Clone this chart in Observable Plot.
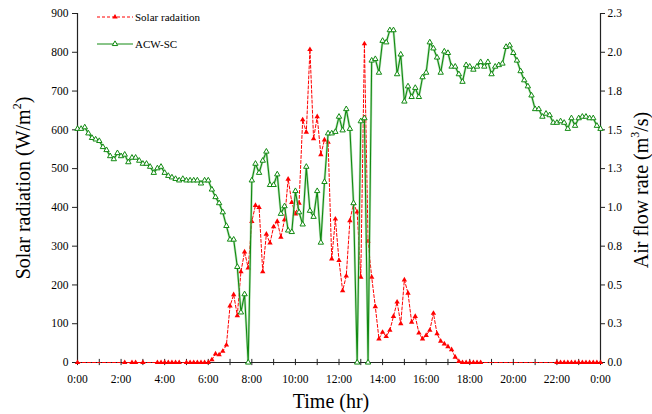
<!DOCTYPE html>
<html>
<head>
<meta charset="utf-8">
<script src="https://cdn.jsdelivr.net/npm/d3@7"></script>
<script src="https://cdn.jsdelivr.net/npm/@observablehq/plot@0.6"></script>
<style>
  body { margin: 0; background: #fff; }
  #chart { width: 652px; height: 414px; }
  #chart svg { display: block; }
</style>
</head>
<body>
<div id="chart"></div>
<script>
// Readings are logged every 10 minutes, from 0:00 to 0:00 the next day.
const minutesPerStep = 10;

// Solar radiation (W/m²); null marks a step with no logged reading.
const solarRadiation = [
  0, null, null, null, null, null,          // 0:00
  null, null, null, null, null, null,       // 1:00
  null, 0, null, 0, 0, null,                // 2:00
  0, null, null, null, 0, 0,                // 3:00
  0, 0, 0, 0, 0, null,                      // 4:00
  0, 0, 0, 0, 0, 0,                         // 5:00
  0, 7, 22, 20, 29, 45,                     // 6:00
  146, 175, 121, 234, 285, 244,             // 7:00
  364, 405, 400, 234, 331, 308,             // 8:00
  350, 364, 323, 368, 473, 413,             // 9:00
  383, 411, 626, 594, 807, 577,             // 10:00
  634, 536, 574, 568, 267, 370,             // 11:00
  263, 185, 223, 366, 410, 388,             // 12:00
  220, 822, 313, 220, 144, 61,              // 13:00
  78, 67, 83, 119, 156, 100,                // 14:00
  213, 179, 104, 119, 76, 61,               // 15:00
  70, 83, 127, 74, 55, 48,                  // 16:00
  41, 33, 14, 3, 0, 0,                      // 17:00
  0, 0, 0, 0, null, null,                   // 18:00
  null, null, null, null, null, null,       // 19:00
  null, null, null, null, null, null,       // 20:00
  null, null, null, null, null, null,       // 21:00
  0, 0, 0, 0, 0, 0,                         // 22:00
  0, 0, 0, 0, 0, 0,                         // 23:00
  0                                         // 0:00
];

// ACW-SC air flow rate (m³/s).
const airFlowRate = [
  1.54, 1.54, 1.55, 1.51, 1.48, 1.47,       // 0:00
  1.46, 1.42, 1.40, 1.36, 1.34, 1.38,       // 1:00
  1.36, 1.37, 1.32, 1.35, 1.35, 1.33,       // 2:00
  1.31, 1.31, 1.29, 1.25, 1.28, 1.29,       // 3:00
  1.25, 1.23, 1.22, 1.21, 1.20, 1.21,       // 4:00
  1.20, 1.20, 1.20, 1.20, 1.18, 1.20,       // 5:00
  1.20, 1.14, 1.09, 1.05, 0.99, 0.90,       // 6:00
  0.81, 0.81, 0.63, 0.33, 0.45, 0.00,       // 7:00
  1.20, 1.31, 1.25, 1.33, 1.39, 1.17,       // 8:00
  1.17, 1.24, 0.98, 1.03, 0.87, 0.86,       // 9:00
  1.13, 0.99, 0.91, 1.29, 1.00, 0.96,       // 10:00
  1.13, 0.79, 1.19, 1.51, 1.51, 1.52,       // 11:00
  1.62, 1.53, 1.67, 1.54, 1.05, 0.00,       // 12:00
  1.59, 1.61, 0.00, 1.99, 2.00, 1.91,       // 13:00
  2.12, 2.11, 2.19, 2.19, 1.90, 2.03,       // 14:00
  1.72, 1.82, 1.75, 1.81, 1.75, 1.88,       // 15:00
  1.91, 2.11, 2.07, 2.01, 1.91, 2.05,       // 16:00
  2.04, 1.95, 1.95, 1.90, 1.85, 1.96,       // 17:00
  1.95, 1.93, 1.95, 1.98, 1.95, 1.98,       // 18:00
  1.90, 1.95, 1.96, 1.97, 2.08, 2.09,       // 19:00
  2.04, 1.99, 1.92, 1.86, 1.82, 1.76,       // 20:00
  1.67, 1.67, 1.62, 1.64, 1.63, 1.58,       // 21:00
  1.58, 1.59, 1.58, 1.54, 1.61, 1.56,       // 22:00
  1.61, 1.62, 1.62, 1.61, 1.61, 1.56,       // 23:00
  1.54                                      // 0:00
];

// Axis ticks.
const timeLabelTicks = [0, 2, 4, 6, 8, 10, 12, 14, 16, 18, 20, 22, 24];
const hourTicks = [0, 1, 2, 3, 4, 5, 6, 7, 8, 9, 10, 11, 12, 13, 14, 15, 16, 17, 18, 19, 20, 21, 22, 23, 24];
const radiationTicks = [0, 100, 200, 300, 400, 500, 600, 700, 800, 900];
const radiationAxisMax = 900;
const flowAxisMax = 2.3;

const seriesNames = ["Solar radaition", "ACW-SC"];

const solarColor = "#ff0000";
const flowColor = "#128a12";
const axisColor = "#222";
const serif = "'Liberation Serif', 'Times New Roman', serif";
const markerRadius = 2;

const hourOf = i => i * minutesPerStep / 60;
const solarRows = solarRadiation
  .map((value, i) => ({hour: hourOf(i), value}))
  .filter(d => d.value !== null);
const flowRows = airFlowRate.map((flow, i) => ({hour: hourOf(i), flow}));
// The air flow shares the left scale; the right axis relabels it in m³/s.
const flowOnRadiation = d => d.flow * radiationAxisMax / flowAxisMax;

const chart = Plot.plot({
  width: 652,
  height: 414,
  marginLeft: 77,
  marginRight: 52,
  marginTop: 13,
  marginBottom: 52,
  x: {domain: [0, 24]},
  y: {domain: [0, radiationAxisMax]},
  style: {fontFamily: serif, fontSize: "11.5px", color: "#000", background: "#fff", overflow: "visible"},
  marks: [
    Plot.axisY(radiationTicks, {anchor: "left", tickSize: 5, tickPadding: 4, label: null, stroke: axisColor}),
    Plot.axisY(radiationTicks, {
      anchor: "right", tickSize: 4, tickPadding: 3, label: null, stroke: axisColor,
      tickFormat: v => (v * flowAxisMax / radiationAxisMax).toFixed(1)
    }),
    Plot.axisX(timeLabelTicks, {tickSize: 0, tickPadding: 12, label: null, tickFormat: h => `${h % 24}:00`}),
    Plot.ruleX(hourTicks, {y1: -8, y2: 8, stroke: axisColor}),
    Plot.ruleX([0], {stroke: axisColor, strokeWidth: 1.2}),
    Plot.ruleX([24], {stroke: axisColor, strokeWidth: 1.2}),
    Plot.ruleY([0], {stroke: axisColor, strokeWidth: 1.2}),
    Plot.line(solarRows, {x: "hour", y: "value", stroke: solarColor, strokeWidth: 1, strokeDasharray: "3,2"}),
    Plot.dot(solarRows, {x: "hour", y: "value", symbol: "triangle", r: markerRadius, fill: solarColor, stroke: "none"}),
    Plot.line(flowRows, {x: "hour", y: flowOnRadiation, stroke: "#8fd08f", strokeWidth: 2.4, strokeOpacity: 0.6}),
    Plot.line(flowRows, {x: "hour", y: flowOnRadiation, stroke: flowColor, strokeWidth: 1.1}),
    Plot.dot(flowRows, {x: "hour", y: flowOnRadiation, symbol: "triangle", r: markerRadius, fill: "#fff", stroke: flowColor, strokeWidth: 1})
  ]
});

document.getElementById("chart").appendChild(chart);

// Axis titles, with superscript units.
const svg = d3.select(chart);
function title(x, y, angle, parts) {
  const t = svg.append("text")
    .attr("transform", `translate(${x},${y}) rotate(${angle})`)
    .attr("text-anchor", "middle")
    .attr("font-family", serif)
    .attr("font-size", 20)
    .attr("fill", "#000");
  parts.forEach(([s, sup]) => {
    const span = t.append("tspan").text(s);
    if (sup) span.attr("font-size", 12).attr("dy", -9);
    else if (sup === false) span.attr("dy", 9);
  });
}
title(30, 188, -90, [["Solar radiation (W/m"], ["2", true], [")", false]]);
title(648, 190, -90, [["Air flow rate (m"], ["3", true], ["/s)", false]]);
title(331, 408, 0, [["Time (hr)"]]);

// Legend in the upper left of the plot area.
const legend = svg.append("g")
  .attr("font-family", serif)
  .attr("font-size", 11)
  .attr("text-anchor", "start");
const tri = d3.symbol(d3.symbolTriangle, Math.PI * markerRadius * markerRadius)();
[
  {name: seriesNames[0], y: 17, color: solarColor, dash: "3,2", fill: solarColor},
  {name: seriesNames[1], y: 44, color: flowColor, dash: null, fill: "#fff"}
].forEach(item => {
  const g = legend.append("g");
  g.append("line").attr("x1", 97).attr("x2", 133).attr("y1", item.y).attr("y2", item.y)
    .attr("stroke", item.color).attr("stroke-width", 1).attr("stroke-dasharray", item.dash);
  g.append("path").attr("d", tri).attr("transform", `translate(115,${item.y})`)
    .attr("fill", item.fill).attr("stroke", item.fill === "#fff" ? item.color : "none");
  g.append("text").attr("x", 135).attr("y", item.y + 4).attr("fill", "#000").text(item.name);
});
</script>
</body>
</html>
